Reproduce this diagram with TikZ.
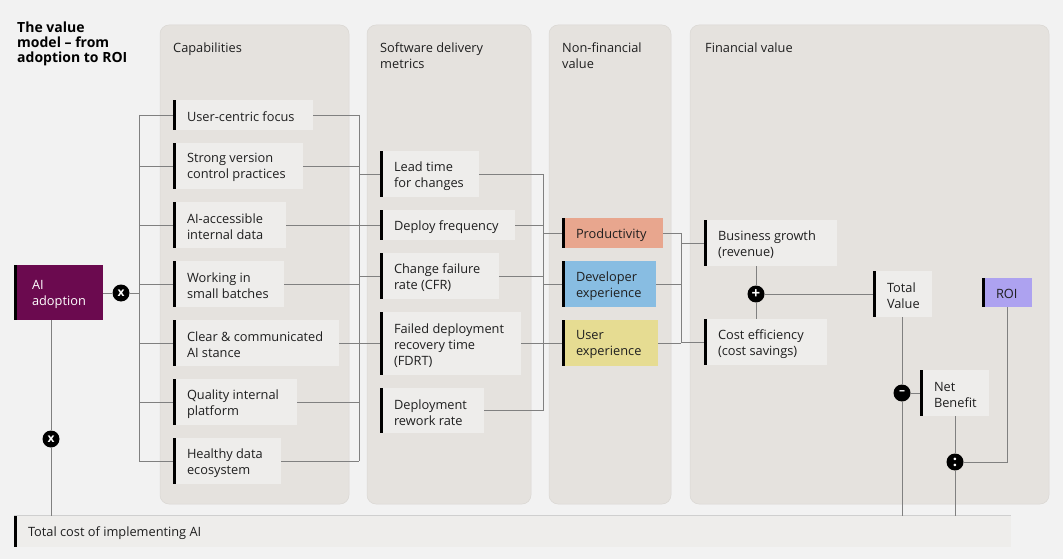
\documentclass[tikz,border=0pt]{standalone}
\usepackage{fontspec}
\setmainfont{Open Sans}
\usetikzlibrary{fit,calc}
\definecolor{bgc}{HTML}{F2F2F2}
\definecolor{panelc}{HTML}{E5E2DE}
\definecolor{panelb}{HTML}{DAD7D3}
\definecolor{boxc}{HTML}{EEEDEB}
\definecolor{txtc}{HTML}{1F1F1F}
\definecolor{linec}{HTML}{808080}
\definecolor{aic}{HTML}{6B0A4F}
\definecolor{prodc}{HTML}{E8A68E}
\definecolor{devc}{HTML}{88BDE2}
\definecolor{userc}{HTML}{E6DC92}
\definecolor{roic}{HTML}{ADA2F0}
\definecolor{topl}{HTML}{CFCFCF}
\newcommand{\mkbox}[8]{%
  \node[boxbase, fill=#6, fit={(#2,#3) (#4,#5)}] (#1) {};
  \fill[black] (#2,#3) rectangle (#2+3,#5);
  \node[boxtext, text=#8, anchor=west] (#1-t) at ([xshift=14pt,yshift=-1.8pt]#1.west) {#7};
}
\begin{document}
\begin{tikzpicture}[x=1pt,y=-1pt,
  conn/.style={draw=linec, line width=0.8pt},
  panel/.style={fill=panelc, draw=panelb, line width=0.5pt, rounded corners=9pt},
  boxbase/.style={inner sep=0pt, draw=none},
  boxtext/.style={align=left, inner sep=0pt, font=\fontsize{12.8}{16}\selectfont},
  hdr/.style={align=left, inner sep=0pt, font=\fontsize{12.8}{16}\selectfont, text=txtc, anchor=north west},
  op/.style={circle, fill=black, minimum size=17pt, inner sep=0pt, text=white, font=\fontsize{12}{12}\selectfont\bfseries},
]
\useasboundingbox (0,0) rectangle (1063,559);
\fill[bgc] (0,0) rectangle (1063,559);
% panels
\path[panel] (160,25) rectangle (349,504);
\path[panel] (367,25) rectangle (531,504);
\path[panel] (549,25) rectangle (671,504);
\path[panel] (690,25) rectangle (1049,504);
% title and headers
\node[anchor=north west, align=left, inner sep=0pt, text=black, font=\fontsize{14}{14.7}\selectfont\bfseries] (title) at (17,22) {The value\\model -- from\\adoption to ROI};
\node[hdr] (h1) at (173,43) {Capabilities};
\node[hdr] (h2) at (380,43) {Software delivery\\metrics};
\node[hdr] (h3) at (562,43) {Non-financial\\value};
\node[hdr] (h4) at (705,43) {Financial value};
% AI adoption and total cost
\mkbox{ai}{14}{265}{103}{320}{aic}{\hspace*{4pt}AI\\\hspace*{4pt}adoption}{white}
\mkbox{total}{14}{516}{1011}{547}{boxc}{Total cost of implementing AI}{txtc}
\draw[topl, line width=0.8pt] (total.north west) -- (total.north east);
% capabilities
\mkbox{c1}{173}{100}{313}{130}{boxc}{User-centric focus}{txtc}
\mkbox{c2}{173}{143}{303}{189}{boxc}{Strong version\\control practices}{txtc}
\mkbox{c3}{173}{202}{286}{248}{boxc}{AI-accessible\\internal data}{txtc}
\mkbox{c4}{173}{261}{284}{307}{boxc}{Working in\\small batches}{txtc}
\mkbox{c5}{173}{320}{339}{366}{boxc}{Clear \& communicated\\AI stance}{txtc}
\mkbox{c6}{173}{379}{297}{425}{boxc}{Quality internal\\platform}{txtc}
\mkbox{c7}{173}{438}{281}{484}{boxc}{Healthy data\\ecosystem}{txtc}
% metrics
\mkbox{m1}{380}{151}{479}{197}{boxc}{Lead time\\for changes}{txtc}
\mkbox{m2}{380}{210}{515}{240}{boxc}{Deploy frequency}{txtc}
\mkbox{m3}{380}{253}{499}{299}{boxc}{Change failure\\rate (CFR)}{txtc}
\mkbox{m4}{380}{312}{521}{375}{boxc}{Failed deployment\\recovery time\\(FDRT)}{txtc}
\mkbox{m5}{380}{388}{484}{433}{boxc}{Deployment\\rework rate}{txtc}
% non-financial
\mkbox{n1}{562}{218}{663}{248}{prodc}{Productivity}{txtc}
\mkbox{n2}{562}{261}{656}{307}{devc}{Developer\\experience}{txtc}
\mkbox{n3}{562}{320}{658}{366}{userc}{User\\experience}{txtc}
% financial
\mkbox{f1}{704}{220}{837}{266}{boxc}{Business growth\\(revenue)}{txtc}
\mkbox{f2}{704}{319}{827}{365}{boxc}{Cost efficiency\\(cost savings)}{txtc}
\mkbox{tv}{873}{271}{932}{317}{boxc}{Total\\Value}{txtc}
\mkbox{nb}{920}{370}{989}{416}{boxc}{Net\\Benefit}{txtc}
\mkbox{roi}{982}{278}{1032}{307}{roic}{ROI}{txtc}
% operators
\node[op] (xa) at (121,293) {x};
\node[op] (xb) at (51,439) {x};
\node[op, font=\fontsize{15}{15}\selectfont\bfseries] (plus) at (756,294) {+};
\node[op] (minus) at (902,393) {--};
\node[op, font=\fontsize{15}{15}\selectfont\bfseries] (div) at (955,462) {:};
% bus coordinates
\coordinate (lb) at (139,0);
\coordinate (rb) at (359,0);
\coordinate (mb) at (543,0);
\coordinate (fb) at (681,0);
% connectors
\draw[conn] (ai.east |- xa) -- (xa);
\draw[conn] (xa) -- (xa -| lb);
\draw[conn] (xb |- ai.south) -- (xb);
\draw[conn] (xb) -- (xb |- total.north);
\foreach \c in {c1,c2,c3,c4,c5,c6,c7}{
  \draw[conn] (\c.west) -- (\c.west -| lb);
  \draw[conn] (\c.east) -- (\c.east -| rb);
}
\draw[conn] (c1.west -| lb) -- (c7.west -| lb);
\draw[conn] (c1.east -| rb) -- (c7.east -| rb);
\foreach \m in {m1,m2,m3,m4}{
  \draw[conn] (\m.west -| rb) -- (\m.west);
}
\foreach \m in {m1,m2,m3,m4,m5}{
  \draw[conn] (\m.east) -- (\m.east -| mb);
}
\draw[conn] (m1.east -| mb) -- (m5.east -| mb);
\foreach \n in {n1,n2,n3}{
  \draw[conn] (\n.west -| mb) -- (\n.west);
  \draw[conn] (\n.east) -- (\n.east -| fb);
}
\draw[conn] (n1.east -| fb) -- (n3.east -| fb);
\draw[conn] (f1.west -| fb) -- (f1.west);
\draw[conn] (f2.west -| fb) -- (f2.west);
\draw[conn] (plus |- f1.south) -- (plus);
\draw[conn] (plus) -- (plus |- f2.north);
\draw[conn] (plus) -- (plus -| tv.west);
\draw[conn] (minus |- tv.south) -- (minus);
\draw[conn] (minus) -- (minus |- total.north);
\draw[conn] (minus) -- (minus -| nb.west);
\draw[conn] (div |- nb.south) -- (div);
\draw[conn] (div) -- (div |- total.north);
\draw[conn] (roi.south) |- (div);
\end{tikzpicture}
\end{document}
